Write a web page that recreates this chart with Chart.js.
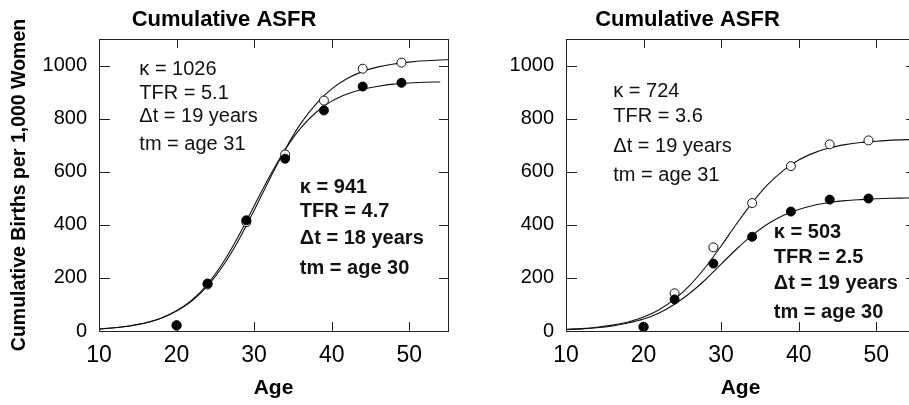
<!DOCTYPE html>
<html>
<head>
<meta charset="utf-8">
<script src="https://cdn.jsdelivr.net/npm/chart.js@4"></script>
<style>
  html, body { margin: 0; padding: 0; background: #fff; overflow: hidden; width: 909px; height: 405px; }
  canvas { position: absolute; top: 0; }
  #left { left: 0; }
  #right { left: 460px; }
</style>
</head>
<body>
<canvas id="left" width="460" height="405"></canvas>
<canvas id="right" width="470" height="405"></canvas>
<script>
// observed ages (points)
const ages = [20, 24, 29, 34, 39, 44, 49];
const leftOpen = [20, 175, 410, 665, 868, 988, 1011];
const leftFilled = [22, 179, 417, 649, 831, 921, 935];
const rightOpen = [15, 142, 315, 482, 621, 703, 718];
const rightFilled = [16, 119, 254, 355, 450, 495, 499];

// fitted curves
const curveAges = [10, 12, 14, 16, 18, 20, 22, 24, 26, 28, 30, 32, 34, 36, 38, 40, 42, 44, 46, 48, 50, 52, 54, 55];
const leftOpenCurve = [8, 12, 20, 31, 48, 75, 114, 170, 246, 342, 454, 572, 684, 781, 856, 912, 951, 978, 995, 1006, 1013, 1018, 1021, 1022];
const leftFilledCurve = [7, 12, 19, 30, 48, 76, 117, 177, 258, 358, 471, 583, 683, 764, 824, 866, 893, 911, 922, 930, 934, 937, 938, null];
const rightOpenCurve = [6, 9, 14, 22, 34, 53, 80, 120, 173, 241, 320, 404, 483, 551, 604, 644, 671, 690, 702, 710, 715, 719, 721, 721];
const rightFilledCurve = [5, 8, 12, 19, 30, 45, 68, 101, 143, 194, 252, 309, 360, 403, 435, 458, 474, 484, 491, 495, 498, 500, 501, 502];

const yTicks = [0, 200, 400, 600, 800, 1000];
const xTicks = [10, 20, 30, 40, 50];

const leftNotes = [
  { x: 15.2, bold: false, lines: [["κ = 1026", 985], ["TFR = 5.1", 895], ["Δt = 19 years", 808], ["tm = age 31", 703]] },
  { x: 35.9, bold: true, lines: [["κ = 941", 541], ["TFR = 4.7", 451], ["Δt = 18 years", 350], ["tm = age 30", 237]] },
];
const rightNotes = [
  { x: 16.1, bold: false, lines: [["κ = 724", 902], ["TFR = 3.6", 808], ["Δt = 19 years", 695], ["tm = age 31", 586]] },
  { x: 36.8, bold: true, lines: [["κ = 503", 372], ["TFR = 2.5", 278], ["Δt = 19 years", 180], ["tm = age 30", 68]] },
];

const FONT = "'Liberation Sans', Arial, sans-serif";

function pairs(xs, ys) {
  return xs.map((x, i) => ({ x, y: ys[i] })).filter((p) => p.y !== null);
}

const frameTicks = {
  id: "frameTicks",
  afterDatasetsDraw(chart) {
    const { ctx, chartArea: a, scales } = chart;
    const len = 9;
    ctx.save();
    ctx.strokeStyle = "#222";
    ctx.lineWidth = 1;
    ctx.strokeRect(a.left + 0.5, a.top + 0.5, a.right - a.left, a.bottom - a.top);
    ctx.beginPath();
    xTicks.slice(1).forEach((v) => {
      const px = Math.round(scales.x.getPixelForValue(v)) + 0.5;
      ctx.moveTo(px, a.top);
      ctx.lineTo(px, a.top + len);
      ctx.moveTo(px, a.bottom);
      ctx.lineTo(px, a.bottom - len);
    });
    yTicks.slice(1).forEach((v) => {
      const py = Math.round(scales.y.getPixelForValue(v)) + 0.5;
      ctx.moveTo(a.left, py);
      ctx.lineTo(a.left + len + 2, py);
      ctx.moveTo(a.right, py);
      ctx.lineTo(a.right - len, py);
    });
    ctx.stroke();
    ctx.restore();
  },
};

const notesPlugin = {
  id: "notes",
  afterDraw(chart, args, opts) {
    const { ctx, scales } = chart;
    ctx.save();
    ctx.fillStyle = "#111";
    ctx.textAlign = "left";
    ctx.textBaseline = "middle";
    (opts.items || []).forEach((block) => {
      ctx.font = (block.bold ? "bold " : "") + "20px " + FONT;
      const px = scales.x.getPixelForValue(block.x);
      block.lines.forEach(([text, yv]) => {
        ctx.fillText(text, px, scales.y.getPixelForValue(yv));
      });
    });
    ctx.restore();
  },
};

function makePanel(id, open, filled, openCurve, filledCurve, notes, withYTitle, yWidth, padRight) {
  const curveStyle = { showLine: true, borderColor: "#111", borderWidth: 1.1, pointRadius: 0, cubicInterpolationMode: "monotone", order: 3 };
  return new Chart(document.getElementById(id), {
    type: "scatter",
    data: {
      datasets: [
        { ...curveStyle, data: pairs(curveAges, openCurve) },
        { ...curveStyle, data: pairs(curveAges, filledCurve) },
        { data: pairs(ages, open), pointRadius: 4.5, pointBackgroundColor: "#fff", pointBorderColor: "#111", pointBorderWidth: 1, order: 2 },
        { data: pairs(ages, filled), pointRadius: 4.5, pointBackgroundColor: "#000", pointBorderColor: "#000", pointBorderWidth: 1, order: 1 },
      ],
    },
    options: {
      responsive: false,
      animation: false,
      events: [],
      layout: { padding: { left: 0, right: padRight, top: 0, bottom: 0 } },
      plugins: {
        legend: { display: false },
        tooltip: { enabled: false },
        title: {
          display: true,
          text: "Cumulative ASFR",
          color: "#000",
          font: { family: FONT, size: 22, weight: "bold", lineHeight: 1.2 },
          padding: { top: 7, bottom: 5.6 },
        },
        notes: { items: notes },
      },
      scales: {
        x: {
          type: "linear",
          min: 10,
          max: 55,
          grid: { display: false, drawTicks: false },
          border: { display: false },
          ticks: { stepSize: 10, includeBounds: false, color: "#000", padding: 11, font: { family: FONT, size: 23 } },
          title: { display: true, text: "Age", color: "#000", font: { family: FONT, size: 21, weight: "bold", lineHeight: 1.2 }, padding: { top: 0, bottom: 4 } },
          afterFit(scale) { scale.height = 74; },
        },
        y: {
          min: 0,
          max: 1100,
          grid: { display: false, drawTicks: false },
          border: { display: false },
          ticks: {
            stepSize: 200,
            includeBounds: false,
            color: "#000",
            padding: 12,
            font: { family: FONT, size: 20 },
            callback: (v) => String(v),
          },
          title: {
            display: withYTitle,
            text: "Cumulative Births per 1,000 Women",
            color: "#000",
            font: { family: FONT, size: 19.5, weight: "bold", lineHeight: 1.2 },
            padding: { top: 8, bottom: 0 },
          },
          afterFit(scale) { scale.width = yWidth; },
        },
      },
    },
    plugins: [frameTicks, notesPlugin],
  });
}

makePanel("left", leftOpen, leftFilled, leftOpenCurve, leftFilledCurve, leftNotes, true, 99, 12);
makePanel("right", rightOpen, rightFilled, rightOpenCurve, rightFilledCurve, rightNotes, false, 106, 15);
</script>
</body>
</html>
